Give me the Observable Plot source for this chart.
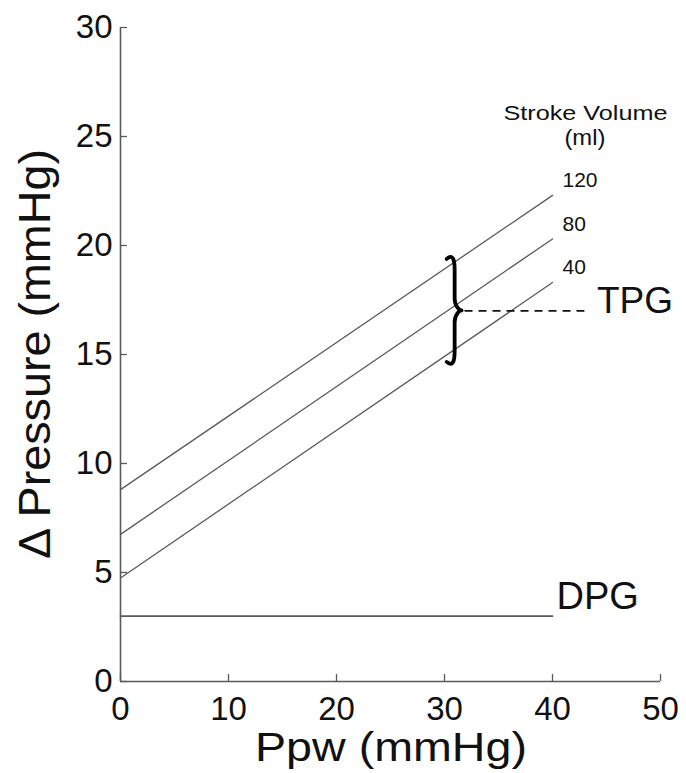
<!DOCTYPE html>
<html><head><meta charset="utf-8">
<script src="https://cdn.jsdelivr.net/npm/d3@7"></script>
<script src="https://cdn.jsdelivr.net/npm/@observablehq/plot@0.6"></script>
<style>body{margin:0;background:#fff;} svg{font-family:"Liberation Sans",Arial,sans-serif;}</style>
</head><body><div id="chart"></div>
<script>
// Stroke volume lines (ml): start (Ppw=0) and end (Ppw=40) values
const strokeVolumes = ["120", "80", "40"];
const ppwStart = [0, 0, 0];
const ppwEnd = [40, 40, 40];
const dpStart = [8.8, 6.75, 4.75];
const dpEnd = [22.3, 20.3, 18.3];
// DPG line
const dpgX = [0, 40];
const dpgY = [3, 3];
// TPG annotation
const tpgY = 17;
const tpgX = [31.9, 43];
const braceX = 30.8;
const braceY = [14.5, 19.5];
const xTicks = [0, 10, 20, 30, 40, 50];
const yTicks = [0, 5, 10, 15, 20, 25, 30];

const segs = [];
strokeVolumes.forEach((sv, i) => {
  segs.push({sv, x: ppwStart[i], y: dpStart[i]});
  segs.push({sv, x: ppwEnd[i], y: dpEnd[i]});
});
const labels = strokeVolumes.map((sv, i) => ({sv, x: ppwEnd[i], y: dpEnd[i]}));
const dpg = dpgX.map((x, i) => ({x, y: dpgY[i]}));

const gray = "#5a5a5a";
const ink = "#111";
const plot = Plot.plot({
  width: 686, height: 773,
  marginLeft: 120, marginRight: 26, marginTop: 27, marginBottom: 92,
  style: {fontFamily: '"Liberation Sans", Arial, sans-serif', background: "#fff"},
  x: {domain: [0, 50]},
  y: {domain: [0, 30]},
  marks: [
    Plot.ruleX([0], {stroke: gray, strokeWidth: 1.6}),
    Plot.ruleY([0], {stroke: gray, strokeWidth: 1.6}),
    Plot.axisY(yTicks, {tickSize: 0, tickPadding: 8, fontSize: 33, fill: ink, label: null}),
    Plot.axisX(xTicks, {tickSize: 0, tickPadding: 15, fontSize: 33, fill: ink, label: null}),
    Plot.ruleY(yTicks, {y: d => d, x1: 0, x2: 0.65, stroke: gray, strokeWidth: 1.3}),
    Plot.ruleX(xTicks, {x: d => d, y1: 0, y2: 0.32, stroke: gray, strokeWidth: 1.3}),
    Plot.line(segs, {x: "x", y: "y", z: "sv", stroke: gray, strokeWidth: 1.3}),
    Plot.line(dpg, {x: "x", y: "y", stroke: gray, strokeWidth: 1.8}),
    Plot.text(labels, {x: "x", y: "y", text: "sv", dx: 10, dy: -15, textAnchor: "start", fontSize: 21, fill: ink}),
    Plot.text(["Stroke Volume"], {x: 43.05, y: 26, text: d => d, fontSize: 21, fill: ink, dy: -1, className: "sv-title"}),
    Plot.text(["(ml)"], {x: 43.0, y: 26, text: d => d, fontSize: 22, fill: ink, dy: 23, className: "sv-unit"}),
    Plot.ruleY([tpgY], {x1: tpgX[0], x2: tpgX[1], stroke: ink, strokeWidth: 1.6, strokeDasharray: "8,6"}),
    Plot.text(["TPG"], {x: tpgX[1], y: tpgY, text: d => d, dx: 12, dy: -10, textAnchor: "start", fontSize: 37, fill: ink}),
    Plot.text(["DPG"], {x: dpgX[1], y: dpgY[1], text: d => d, dx: 4, dy: -19, textAnchor: "start", fontSize: 38, fill: ink})
  ]
});

// widen the legend title to the reference's letter-spacing
d3.select(plot).selectAll(".sv-title text").attr("textLength", 164).attr("lengthAdjust", "spacingAndGlyphs");
d3.select(plot).selectAll(".sv-unit text").attr("textLength", 41).attr("lengthAdjust", "spacingAndGlyphs");

// curly brace, positioned through the plot's own scales
const sx = plot.scale("x"), sy = plot.scale("y");
const bx = sx.apply(braceX), yTop = sy.apply(braceY[1]), yBot = sy.apply(braceY[0]), yMid = sy.apply(tpgY);
const w = 7;
const p = d3.path();
p.moveTo(bx - 6, yTop + 3);
p.bezierCurveTo(bx + 1, yTop - 3, bx + 2, yTop + 6, bx + 2, yTop + 14);
p.lineTo(bx + 2, yMid - 12);
p.bezierCurveTo(bx + 2, yMid - 4, bx + w, yMid, bx + w + 2, yMid);
p.bezierCurveTo(bx + w, yMid, bx + 2, yMid + 4, bx + 2, yMid + 12);
p.lineTo(bx + 2, yBot - 14);
p.bezierCurveTo(bx + 2, yBot - 6, bx + 1, yBot + 3, bx - 6, yBot - 3);
d3.select(plot).append("path").attr("d", p.toString())
  .attr("fill", "none").attr("stroke", "#000").attr("stroke-width", 3.8)
  .attr("stroke-linecap", "round").attr("stroke-linejoin", "round");

// axis titles
const svg = d3.select(plot);
svg.append("text").attr("x", 391).attr("y", 761)
  .attr("text-anchor", "middle").attr("font-size", 41).attr("fill", ink)
  .attr("textLength", 272).attr("lengthAdjust", "spacingAndGlyphs").text("Ppw (mmHg)");
svg.append("text").attr("transform", `translate(50,${(sy.apply(0) + sy.apply(30)) / 2}) rotate(-90)`)
  .attr("text-anchor", "middle").attr("font-size", 45).attr("fill", ink)
  .attr("textLength", 410).attr("lengthAdjust", "spacingAndGlyphs").text("Δ Pressure (mmHg)");

document.getElementById("chart").appendChild(plot);
</script></body></html>
